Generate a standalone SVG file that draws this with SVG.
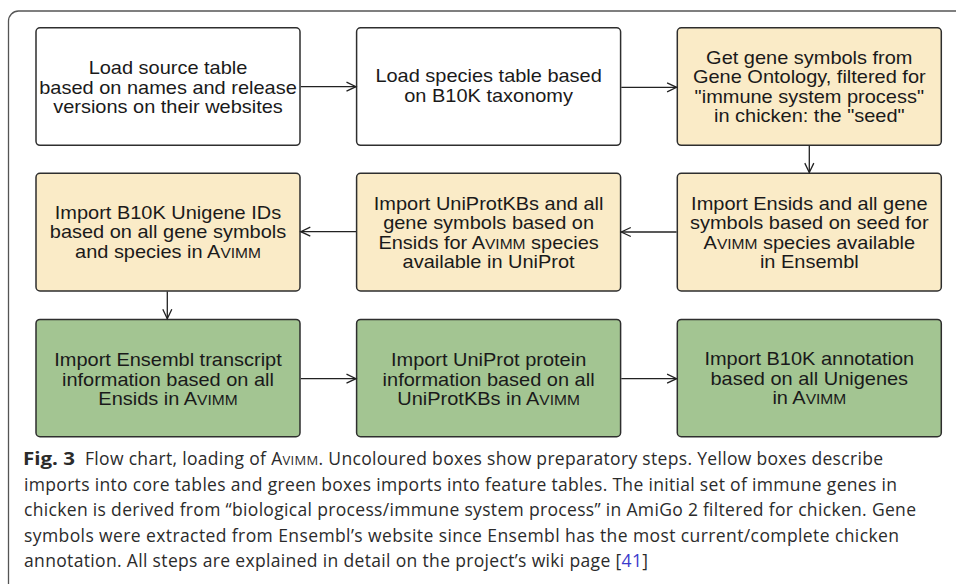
<svg xmlns="http://www.w3.org/2000/svg" width="956" height="584" viewBox="0 0 956 584">
  <defs>
    <marker id="arr" markerUnits="userSpaceOnUse" markerWidth="14" markerHeight="14" refX="11" refY="6" orient="auto">
      <path d="M1.5,1.5 L11,6 L1.5,10.5" fill="none" stroke="#222" stroke-width="1.3"/>
    </marker>
  </defs>
  <style>
    .box { stroke: #2e2e2e; stroke-width: 1.5; }
    .white { fill: #ffffff; }
    .yellow { fill: #faebc7; }
    .green { fill: #a3c592; }
    .lbl { font-family: "Liberation Sans", Arial, sans-serif; font-size: 18px; fill: #1a1a1a; text-anchor: middle; }
    .sc { font-size: 14px; }
    .conn { stroke: #222; stroke-width: 1.3; fill: none; marker-end: url(#arr); }
    .cap { font-family: "Open Sans", "Noto Sans", sans-serif; font-size: 17.5px; fill: #2b2b2b; }
    .capsc { font-size: 13px; }
  </style>
  <rect width="956" height="584" fill="#ffffff"/>
  <path d="M8.5,584 L8.5,21 A10,10 0 0 1 18.5,11 L956,11" fill="none" stroke="#555" stroke-width="1.3"/>

  <g id="n1">
    <rect class="box white" x="36" y="27.8" width="264" height="117.5" rx="4"/>
    <g transform="translate(168,0) scale(1.11,1)">
      <text class="lbl"><tspan x="0" y="74">Load source table</tspan><tspan x="0" y="93.6">based on names and release</tspan><tspan x="0" y="113.2">versions on their websites</tspan></text>
    </g>
  </g>
  <g id="n2">
    <rect class="box white" x="356.6" y="27.8" width="264" height="117.5" rx="4"/>
    <g transform="translate(488.6,0) scale(1.11,1)">
      <text class="lbl"><tspan x="0" y="82">Load species table based</tspan><tspan x="0" y="101.7">on B10K taxonomy</tspan></text>
    </g>
  </g>
  <g id="n3">
    <rect class="box yellow" x="677.3" y="27.8" width="264" height="117.5" rx="4"/>
    <g transform="translate(809.3,0) scale(1.11,1)">
      <text class="lbl"><tspan x="0" y="63.6">Get gene symbols from</tspan><tspan x="0" y="83.1">Gene Ontology, filtered for</tspan><tspan x="0" y="102.6">"immune system process"</tspan><tspan x="0" y="122.1">in chicken: the "seed"</tspan></text>
    </g>
  </g>

  <g id="n4">
    <rect class="box yellow" x="677.3" y="173.3" width="264" height="117.7" rx="4"/>
    <g transform="translate(809.3,0) scale(1.11,1)">
      <text class="lbl"><tspan x="0" y="209.8">Import Ensids and all gene</tspan><tspan x="0" y="229.3">symbols based on seed for</tspan><tspan x="0" y="248.8">A<tspan class="sc">VIMM</tspan> species available</tspan><tspan x="0" y="268.3">in Ensembl</tspan></text>
    </g>
  </g>
  <g id="n5">
    <rect class="box yellow" x="356.6" y="173.3" width="264" height="117.7" rx="4"/>
    <g transform="translate(488.6,0) scale(1.11,1)">
      <text class="lbl"><tspan x="0" y="209.8">Import UniProtKBs and all</tspan><tspan x="0" y="229.3">gene symbols based on</tspan><tspan x="0" y="248.8">Ensids for A<tspan class="sc">VIMM</tspan> species</tspan><tspan x="0" y="268.3">available in UniProt</tspan></text>
    </g>
  </g>
  <g id="n6">
    <rect class="box yellow" x="36" y="173.3" width="264" height="117.7" rx="4"/>
    <g transform="translate(168,0) scale(1.11,1)">
      <text class="lbl"><tspan x="0" y="218.8">Import B10K Unigene IDs</tspan><tspan x="0" y="238.3">based on all gene symbols</tspan><tspan x="0" y="257.8">and species in A<tspan class="sc">VIMM</tspan></tspan></text>
    </g>
  </g>

  <g id="n7">
    <rect class="box green" x="36" y="319.4" width="264" height="117.3" rx="4"/>
    <g transform="translate(168,0) scale(1.11,1)">
      <text class="lbl"><tspan x="0" y="366.3">Import Ensembl transcript</tspan><tspan x="0" y="385.8">information based on all</tspan><tspan x="0" y="405.3">Ensids in A<tspan class="sc">VIMM</tspan></tspan></text>
    </g>
  </g>
  <g id="n8">
    <rect class="box green" x="356.6" y="319.4" width="264" height="117.3" rx="4"/>
    <g transform="translate(488.6,0) scale(1.11,1)">
      <text class="lbl"><tspan x="0" y="366.3">Import UniProt protein</tspan><tspan x="0" y="385.8">information based on all</tspan><tspan x="0" y="405.3">UniProtKBs in A<tspan class="sc">VIMM</tspan></tspan></text>
    </g>
  </g>
  <g id="n9">
    <rect class="box green" x="677.3" y="319.4" width="264" height="117.3" rx="4"/>
    <g transform="translate(809.3,0) scale(1.11,1)">
      <text class="lbl"><tspan x="0" y="365.5">Import B10K annotation</tspan><tspan x="0" y="385">based on all Unigenes</tspan><tspan x="0" y="404.5">in A<tspan class="sc">VIMM</tspan></tspan></text>
    </g>
  </g>

  <g id="connectors">
    <line class="conn" x1="300.8" y1="86.7" x2="356" y2="86.7"/>
    <line class="conn" x1="621.3" y1="87.3" x2="676.6" y2="87.3"/>
    <line class="conn" x1="809.3" y1="145.8" x2="809.3" y2="172.6"/>
    <line class="conn" x1="676.6" y1="232" x2="621.3" y2="232"/>
    <line class="conn" x1="356" y1="231.7" x2="300.8" y2="231.7"/>
    <line class="conn" x1="167.3" y1="291.5" x2="167.3" y2="318.7"/>
    <line class="conn" x1="300.8" y1="378.7" x2="356" y2="378.7"/>
    <line class="conn" x1="621.3" y1="378.7" x2="676.6" y2="378.7"/>
  </g>

  <g id="caption">
    <text class="cap" x="23" y="465" font-weight="bold" fill="#1e1e1e" textLength="52" lengthAdjust="spacingAndGlyphs">Fig. 3</text>
    <text class="cap" x="85" y="465" textLength="798" lengthAdjust="spacing">Flow chart, loading of A<tspan class="capsc">VIMM</tspan>. Uncoloured boxes show preparatory steps. Yellow boxes describe</text>
    <text class="cap" x="24" y="490.5" textLength="873" lengthAdjust="spacing">imports into core tables and green boxes imports into feature tables. The initial set of immune genes in</text>
    <text class="cap" x="24" y="516" textLength="892" lengthAdjust="spacing">chicken is derived from “biological process/immune system process” in AmiGo 2 filtered for chicken. Gene</text>
    <text class="cap" x="24" y="541.5" textLength="875" lengthAdjust="spacing">symbols were extracted from Ensembl’s website since Ensembl has the most current/complete chicken</text>
    <text class="cap" x="24" y="567" textLength="624" lengthAdjust="spacing">annotation. All steps are explained in detail on the project’s wiki page [<tspan fill="#3a3acc">41</tspan>]</text>
  </g>
</svg>
